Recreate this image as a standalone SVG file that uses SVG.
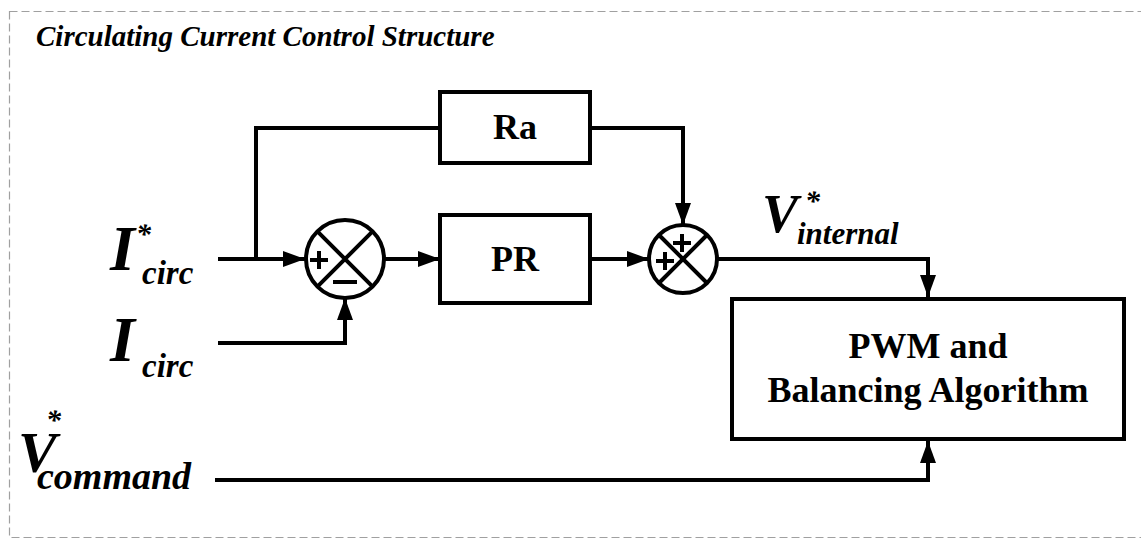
<svg xmlns="http://www.w3.org/2000/svg" width="1141" height="540" viewBox="0 0 1141 540">
<defs>
<style>
.ln{fill:none;stroke:#000;stroke-width:4;stroke-linejoin:miter;stroke-linecap:butt}
.box{fill:#fff;stroke:#000;stroke-width:4}
.bt{font-family:"Liberation Serif","Times New Roman",serif;font-weight:bold;font-size:36px;text-anchor:middle;fill:#000}
.lb{font-family:"Liberation Serif","Times New Roman",serif;font-weight:bold;font-style:italic;fill:#000}
.sg{fill:none;stroke:#000;stroke-width:4}
</style>
<marker id="ah" markerUnits="userSpaceOnUse" markerWidth="24" markerHeight="18" viewBox="0 0 24 18" refX="22" refY="9" orient="auto">
<path d="M0,1 L22,9 L0,17 Z" fill="#000"/>
</marker>
</defs>
<rect x="0" y="0" width="1141" height="540" fill="#fff"/>
<rect x="9.5" y="11.5" width="1140" height="526" fill="none" stroke="#a0a0a0" stroke-width="1.2" stroke-dasharray="8,4"/>
<text class="lb" x="36" y="46" font-size="29">Circulating Current Control Structure</text>

<g id="connectors">
<path class="ln" d="M218,259 H305" marker-end="url(#ah)"/>
<path class="ln" d="M256,259 V128 H440"/>
<path class="ln" d="M590,128 H683 V225" marker-end="url(#ah)"/>
<path class="ln" d="M218,343 H345 V298" marker-end="url(#ah)"/>
<path class="ln" d="M384,259 H440" marker-end="url(#ah)"/>
<path class="ln" d="M590,259 H649" marker-end="url(#ah)"/>
<path class="ln" d="M717,259 H928 V297" marker-end="url(#ah)"/>
<path class="ln" d="M215,480 H928 V441" marker-end="url(#ah)"/>
</g>

<g id="ra">
<rect class="box" x="440" y="92" width="150" height="71"/>
<text class="bt" x="515" y="139">Ra</text>
</g>
<g id="pr">
<rect class="box" x="440" y="215" width="150" height="88"/>
<text class="bt" x="515" y="271">PR</text>
</g>
<g id="sum1">
<circle class="box" cx="345" cy="259" r="39"/>
<path class="sg" d="M317.4,231.4 L372.6,286.6 M372.6,231.4 L317.4,286.6"/>
<path class="sg" d="M310,260 H328 M319,251 V269"/>
<path class="sg" d="M333,282 H357"/>
</g>
<g id="sum2">
<circle class="box" cx="683" cy="259" r="34"/>
<path class="sg" d="M659,235 L707,283 M707,235 L659,283"/>
<path class="sg" d="M656,261 H674 M665,252 V270"/>
<path class="sg" d="M673,243 H691 M682,234 V252"/>
</g>
<g id="pwm">
<rect class="box" x="732" y="299" width="392" height="140"/>
<text class="bt" x="928" y="358">PWM and</text>
<text class="bt" x="928" y="402">Balancing Algorithm</text>
</g>

<g id="label-icirc-star">
<text class="lb" x="110" y="270" font-size="64">I</text>
<text class="lb" x="136" y="244" font-size="30">*</text>
<text class="lb" x="142" y="284" font-size="33">circ</text>
</g>
<g id="label-icirc">
<text class="lb" x="110" y="361" font-size="64">I</text>
<text class="lb" x="142" y="377" font-size="33">circ</text>
</g>
<g id="label-vinternal">
<text class="lb" x="762" y="232" font-size="54">V</text>
<text class="lb" x="805" y="211" font-size="30">*</text>
<text class="lb" x="797" y="244" font-size="31">internal</text>
</g>
<g id="label-vcommand">
<text class="lb" x="18" y="472" font-size="58">V</text>
<text class="lb" x="46" y="430" font-size="30">*</text>
<text class="lb" x="37" y="489" font-size="38">command</text>
</g>
</svg>
